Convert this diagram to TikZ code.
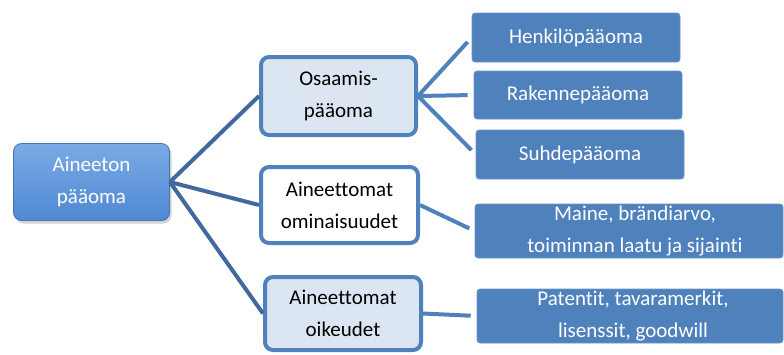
\documentclass[tikz,border=0pt]{standalone}
\usepackage{fontspec}
\setmainfont{Carlito}[RawFeature={-liga,-clig}]
\usetikzlibrary{shadows}
\definecolor{accent}{HTML}{4F81BD}
\definecolor{lightfill}{HTML}{DCE6F2}
\definecolor{darkline}{HTML}{41699E}
\definecolor{roottop}{HTML}{7AAAE6}
\definecolor{rootbot}{HTML}{4F89D3}
\begin{document}
\begin{tikzpicture}[x=1pt,y=-1pt,
  every node/.style={font=\fontsize{21}{32}\selectfont, inner sep=0pt, align=center},
  rootbox/.style={rounded corners=8pt, draw=accent!90!black, line width=0.8pt,
    top color=roottop, bottom color=rootbot, text=white,
    drop shadow={opacity=0.35, shadow xshift=2pt, shadow yshift=-3pt},
    minimum width=156pt, minimum height=77pt},
  midbox/.style={rounded corners=8pt, draw=accent, line width=4pt, text=black},
  leafbox/.style={rounded corners=3pt, fill=accent, draw=accent!85!white, line width=0.6pt, text=white},
  rootlink/.style={draw=darkline, line width=4pt},
  leaflink/.style={draw=accent, line width=4pt, shorten >=6pt}
]
\useasboundingbox (0,0) rectangle (784,354);

\node[rootbox] (root) at (91.5,182) {Aineeton\\pääoma};

\node[midbox, fill=lightfill, minimum width=155pt, minimum height=78pt] (osa) at (338.5,96) {Osaamis-\\pääoma};
\node[midbox, fill=white, minimum width=157pt, minimum height=76pt] (omin) at (339.5,205) {Aineettomat\\ominaisuudet};
\node[midbox, fill=lightfill, minimum width=156pt, minimum height=73pt] (oik) at (343,313.5) {Aineettomat\\oikeudet};

\node[leafbox, minimum width=208pt, minimum height=49pt] (henk) at (576,37.5) {Henkilöpääoma};
\node[leafbox, minimum width=208pt, minimum height=48pt] (rak) at (578,95) {Rakennepääoma};
\node[leafbox, minimum width=208pt, minimum height=49pt] (suh) at (580,154.5) {Suhdepääoma};
\node[leafbox, minimum width=308pt, minimum height=54pt] (maine) at (629,231) {\hspace*{12pt}Maine, brändiarvo,\\\hspace*{12pt}toiminnan laatu ja sijainti};
\node[leafbox, minimum width=306pt, minimum height=54pt] (pat) at (630,316) {\hspace*{6pt}Patentit, tavaramerkit,\\\hspace*{6pt}lisenssit, goodwill};

\draw[rootlink] (root.east) -- (osa.west);
\draw[rootlink] (root.east) -- (omin.west);
\draw[rootlink] (root.east) -- (oik.west);

\draw[leaflink] (osa.east) -- (henk.west);
\draw[leaflink] (osa.east) -- (rak.west);
\draw[leaflink] (osa.east) -- (suh.west);
\draw[leaflink] (omin.east) -- (maine.west);
\draw[leaflink] (oik.east) -- (pat.west);
\end{tikzpicture}
\end{document}
